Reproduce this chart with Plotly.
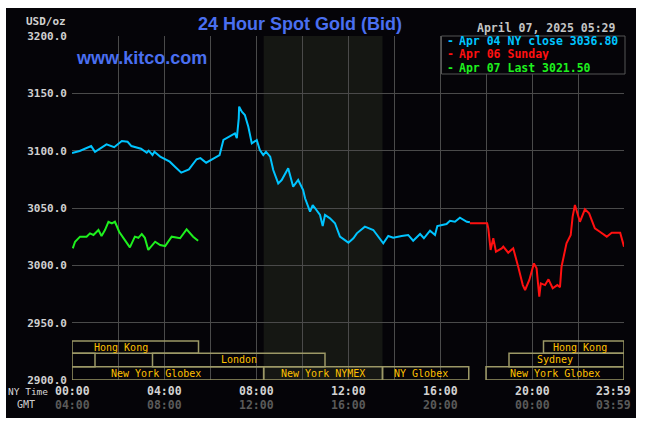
import plotly.graph_objects as go

# ---------------- data ----------------
apr04_time = ["00:00","00:20","00:50","01:00","01:30","01:50","02:10","02:25","02:35","03:00",
              "03:15","03:20","03:30","03:35","03:50","04:15","04:30","04:45","05:05","05:25",
              "05:35","05:50","06:10","06:25","06:35","06:50","07:05","07:10","07:15","07:16",
              "07:23","07:31","07:40","07:49","08:02","08:10","08:19","08:26","08:37","08:45",
              "08:58","09:07","09:24","09:37","09:50","10:03","10:08","10:21","10:28","10:47",
              "10:54","11:00","11:13","11:26","11:39","12:01","12:14","12:23","12:44","13:06",
              "13:32","13:45","13:58","14:20","14:37","14:50","15:08","15:18","15:34","15:47",
              "15:53","16:17","16:26","16:39","16:52","17:10","17:18"]
apr04_price = [3098.0,3099.7,3104.0,3099.0,3105.5,3103.0,3108.4,3107.8,3104.0,3101.7,
               3098.2,3100.0,3096.2,3099.0,3094.8,3090.4,3085.5,3080.8,3083.7,3092.5,
               3093.5,3089.5,3093.3,3096.2,3109.3,3112.2,3115.1,3111.0,3128.2,3138.4,
               3134.0,3131.1,3120.9,3106.4,3109.3,3100.6,3096.2,3099.1,3094.8,3083.1,
               3071.5,3074.4,3084.6,3068.6,3074.4,3065.7,3058.5,3046.8,3052.6,3043.9,
               3034.3,3043.9,3041.0,3036.7,3025.0,3019.8,3023.6,3027.9,3033.7,3030.8,
               3019.2,3025.6,3024.0,3025.6,3026.5,3021.5,3027.3,3023.6,3030.2,3026.5,
               3034.3,3036.0,3038.9,3038.0,3041.5,3038.0,3037.5]

apr06_time = ["17:18","18:03","18:06","18:12","18:19","18:26","18:41","18:45","18:58","19:11",
              "19:24","19:36","19:42","19:53","20:05","20:12","20:19","20:23","20:34","20:43",
              "20:54","21:06","21:13","21:17","21:30","21:41","21:46","21:52","22:05","22:18",
              "22:29","22:44","22:57","23:15","23:28","23:50","23:59"]
apr06_price = [3036.8,3036.8,3032.3,3013.4,3023.6,3011.9,3014.8,3016.3,3011.0,3014.8,
               2998.8,2982.8,2978.5,2987.2,3001.7,2997.4,2972.6,2984.3,2982.8,2987.8,
               2980.0,2982.8,2981.0,2998.8,3019.2,3026.5,3042.5,3052.6,3038.0,3048.9,
               3045.4,3032.3,3029.3,3025.0,3028.5,3028.5,3016.3]

apr07_time = ["00:02","00:08","00:21","00:38","00:47","00:56","01:09","01:17","01:26","01:35",
              "01:44","01:52","02:03","02:18","02:31","02:44","02:53","03:02","03:10","03:19",
              "03:37","03:50","04:03","04:20","04:42","04:59","05:16","05:29"]
apr07_price = [3014.8,3020.6,3025.0,3025.0,3027.9,3026.5,3030.8,3025.6,3030.8,3038.0,
               3036.5,3038.0,3029.3,3022.1,3015.7,3025.0,3024.0,3027.3,3024.0,3013.4,
               3020.6,3017.7,3016.8,3025.0,3023.6,3031.4,3025.0,3021.5]

legend_labels = ["Apr 04 NY close 3036.80", "Apr 06 Sunday", "Apr 07 Last 3021.50"]

y_ticks = [2900, 2950, 3000, 3050, 3100, 3150, 3200]
ny_tick_labels = ["00:00", "04:00", "08:00", "12:00", "16:00", "20:00", "23:59"]
gmt_tick_labels = ["04:00", "08:00", "12:00", "16:00", "20:00", "00:00", "03:59"]

# sessions: label, start, end, row (0 = top row)
session_labels = ["Hong Kong", "Hong Kong", "", "London", "Sydney",
                  "New York Globex", "New York NYMEX", "NY Globex", "New York Globex"]
session_start = ["00:00", "20:30", "00:00", "03:30", "19:00", "00:00", "08:20", "13:30", "18:00"]
session_end   = ["05:30", "23:59", "01:00", "11:00", "23:59", "08:20", "13:30", "17:15", "23:59"]
session_row   = [0, 0, 1, 1, 1, 2, 2, 2, 2]

date_text = "April 07, 2025 05:29"
title_text = "24 Hour Spot Gold (Bid)"
site_text = "www.kitco.com"


def hours(t):
    h, m = t.split(":")
    v = int(h) + int(m) / 60.0
    return 24.0 if t == "23:59" else v


# ---------------- styles ----------------
BLUE = "#00c4ff"
RED = "#ff1010"
GREEN = "#1ef01e"
GRID = "#4a4a4a"
BOX = "#9c9866"
GOLD = "#ffc000"
MONO = "DejaVu Sans Mono"
L, R, T, B = 72, 23, 36, 45
W, H = 647, 425
PW, PH = W - L - R, H - T - B


def px(x):
    return (x - L) / PW


def py(y):
    return (H - B - y) / PH


row_bounds = [(2923.3, 2934.0), (2911.6, 2923.3), (2900.0, 2911.6)]
label_shift = [-0.6, -0.15, 0, 0, -0.5, -0.5, 0, -0.2, 0]

fig = go.Figure()
series = [(apr04_time, apr04_price, BLUE), (apr06_time, apr06_price, RED),
          (apr07_time, apr07_price, GREEN)]
for t, p, c in series:
    fig.add_trace(go.Scatter(x=[hours(v) for v in t], y=p, mode="lines",
                             line=dict(color=c, width=2), hoverinfo="skip",
                             showlegend=False))

shapes = []
# black card
shapes.append(dict(type="rect", xref="paper", yref="paper", x0=px(6), x1=px(636),
                   y0=py(418), y1=py(8), fillcolor="#050408", line=dict(width=0),
                   layer="below"))
# NYMEX shading
shapes.append(dict(type="rect", xref="x", yref="paper", x0=hours("08:20"), x1=hours("13:30"),
                   y0=0, y1=1, fillcolor="#151713", line=dict(width=0), layer="below"))
# session boxes
annotations = []
for lab, s, e, r, sh in zip(session_labels, session_start, session_end, session_row, label_shift):
    y0, y1 = row_bounds[r]
    xs, xe = hours(s), hours(e)
    shapes.append(dict(type="rect", xref="x", yref="y", x0=xs, x1=xe, y0=y0, y1=y1,
                       line=dict(color=BOX, width=1.5), fillcolor="rgba(0,0,0,0)",
                       layer="above"))
    if lab:
        annotations.append(dict(x=(xs + xe) / 2 + sh, y=(y0 + y1) / 2, xref="x", yref="y",
                                text=lab, showarrow=False,
                                font=dict(family=MONO, size=10, color=GOLD)))
# legend box
shapes.append(dict(type="rect", xref="paper", yref="paper", x0=px(441.5), x1=px(625),
                   y0=py(74), y1=1, fillcolor="#050408", line=dict(color="#555555", width=1),
                   layer="above"))
leg_y = [41, 54.5, 68]
for lab, c, yy in zip(legend_labels, [BLUE, RED, GREEN], leg_y):
    annotations.append(dict(x=px(450.5), y=py(yy), xref="paper", yref="paper", text="-",
                            showarrow=False, xanchor="center", yanchor="middle",
                            height=12, borderpad=0,
                            font=dict(family=MONO, size=11.5, color=c, weight="bold")))
    annotations.append(dict(x=px(457.5), y=py(yy), xref="paper", yref="paper", text=lab,
                            showarrow=False, xanchor="left", yanchor="middle",
                            height=12, borderpad=0,
                            font=dict(family=MONO, size=11.5, color=c, weight="bold")))

# x labels
tick_h = [hours(t) for t in ny_tick_labels]
for h, a, g in zip(tick_h, ny_tick_labels, gmt_tick_labels):
    shift = -11 if h >= 24 else 0
    annotations.append(dict(x=h, y=py(391), xref="x", yref="paper", text=a, showarrow=False,
                            xshift=shift, yanchor="middle",
                            font=dict(family=MONO, size=11.5, color="#d2d2d2", weight="bold")))
    annotations.append(dict(x=h, y=py(404.5), xref="x", yref="paper", text=g, showarrow=False,
                            xshift=shift, yanchor="middle",
                            font=dict(family=MONO, size=11.5, color="#5a5a5a", weight="bold")))
annotations.append(dict(x=px(50), y=py(391), xref="paper", yref="paper", text="NY Time",
                        showarrow=False, xanchor="right", yanchor="middle",
                        font=dict(family=MONO, size=9.5, color="#d8d8d8")))
annotations.append(dict(x=px(25.5), y=py(404.5), xref="paper", yref="paper", text="GMT",
                        showarrow=False, xanchor="center", yanchor="middle",
                        font=dict(family=MONO, size=10, color="#d0d0d0")))
annotations.append(dict(x=px(67.5), y=py(22), xref="paper", yref="paper", text="USD/oz",
                        showarrow=False, xanchor="right", yanchor="middle",
                        font=dict(family=MONO, size=11, color="#d0d0d0", weight="bold")))
annotations.append(dict(x=px(300), y=py(23.5), xref="paper", yref="paper", text=title_text,
                        showarrow=False, xanchor="center", yanchor="middle",
                        font=dict(family="Liberation Sans", size=18, color="#4a6ff0",
                                  weight="bold")))
annotations.append(dict(x=px(73.5), y=py(57.5), xref="paper", yref="paper", text=site_text,
                        showarrow=False, xanchor="left", yanchor="middle",
                        font=dict(family="Liberation Sans", size=18, color="#4a6ff0",
                                  weight="bold")))
annotations.append(dict(x=px(475), y=py(28), xref="paper", yref="paper", text=date_text,
                        showarrow=False, xanchor="left", yanchor="middle",
                        font=dict(family=MONO, size=11.5, color="#c4c4c4", weight="bold")))

fig.update_layout(
    width=W, height=H, margin=dict(l=L, r=R, t=T, b=B),
    paper_bgcolor="white", plot_bgcolor="rgba(0,0,0,0)",
    shapes=shapes, annotations=annotations, showlegend=False,
    xaxis=dict(range=[0, 24], tickmode="linear", tick0=0, dtick=2, showgrid=True,
               gridcolor=GRID, gridwidth=1, showticklabels=False, zeroline=False,
               showline=False, fixedrange=True),
    yaxis=dict(range=[2900, 3200], tickvals=y_ticks,
               ticktext=[f"{v:.1f}" for v in y_ticks], showgrid=True, gridcolor=GRID,
               gridwidth=1, zeroline=False, showline=False, ticks="",
               ticklabelstandoff=4,
               tickfont=dict(family=MONO, size=11, color="#d0d0d0", weight="bold"),
               fixedrange=True),
)

fig.write_html("out.html")
